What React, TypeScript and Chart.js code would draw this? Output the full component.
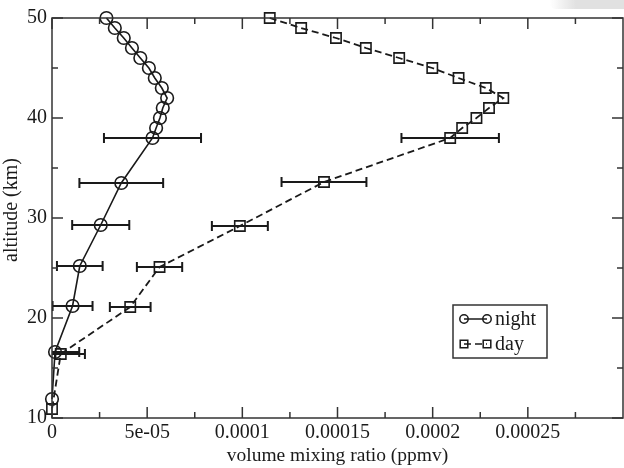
import React, { useEffect, useRef } from 'react';
import { Chart, registerables } from 'chart.js';

Chart.register(...registerables);

// ---------- data ----------
const nightAltitude = [50, 49, 48, 47, 46, 45, 44, 43, 42, 41, 40, 39, 38, 33.5, 29.3, 25.2, 21.2, 16.6, 11.9];
const nightValue = [2.86e-5, 3.3e-5, 3.77e-5, 4.2e-5, 4.64e-5, 5.09e-5, 5.4e-5, 5.77e-5, 6.05e-5, 5.82e-5, 5.67e-5, 5.47e-5, 5.28e-5, 3.64e-5, 2.56e-5, 1.46e-5, 1.08e-5, 0.16e-5, 0];
const nightError = [null, null, null, null, null, null, null, null, null, null, null, null, 2.55e-5, 2.2e-5, 1.5e-5, 1.2e-5, 1.05e-5, 1.27e-5, null];

const dayAltitude = [50, 49, 48, 47, 46, 45, 44, 43, 42, 41, 40, 39, 38, 33.6, 29.2, 25.1, 21.1, 16.4, 10.9];
const dayValue = [1.144e-4, 1.309e-4, 1.492e-4, 1.649e-4, 1.824e-4, 1.998e-4, 2.136e-4, 2.279e-4, 2.371e-4, 2.296e-4, 2.23e-4, 2.155e-4, 2.092e-4, 1.429e-4, 0.987e-4, 5.65e-5, 4.11e-5, 0.46e-5, 0];
const dayError = [null, null, null, null, null, null, null, null, null, null, null, null, 2.56e-5, 2.23e-5, 1.47e-5, 1.19e-5, 1.07e-5, 1.27e-5, null];

const seriesLabels = ['night', 'day'];

const xTickValues = [0, 5e-5, 1e-4, 1.5e-4, 2e-4, 2.5e-4];
const xTickLabels = ['0', '5e-05', '0.0001', '0.00015', '0.0002', '0.00025'];
const xMinorTicks = [2.5e-5, 7.5e-5, 1.25e-4, 1.75e-4, 2.25e-4, 2.75e-4];
const yTickValues = [10, 20, 30, 40, 50];
const yTickLabels = ['10', '20', '30', '40', '50'];
const yMinorTicks = [15, 25, 35, 45];

const xMin = 0;
const xMax = 3e-4;
const yMin = 10;
const yMax = 50;

const xTitle = 'volume mixing ratio (ppmv)';
const yTitle = 'altitude (km)';

// ---------- styles ----------
const FONT = "'Liberation Serif', 'Times New Roman', serif";
const INK = '#1a1a1a';
const AXIS = '#333333';

const errorSets = [nightError, dayError];

const errorBarPlugin = {
  id: 'errorBars',
  afterDatasetsDraw(chart: any) {
    const { ctx, chartArea, scales } = chart;
    const xs = scales.x;
    const ys = scales.y;
    ctx.save();
    ctx.beginPath();
    ctx.rect(chartArea.left, chartArea.top - 10, chartArea.right - chartArea.left, chartArea.bottom - chartArea.top + 20);
    ctx.clip();
    ctx.strokeStyle = INK;
    ctx.lineWidth = 2;
    ctx.setLineDash([]);
    chart.data.datasets.forEach((ds: any, di: number) => {
      const errs = errorSets[di];
      ds.data.forEach((p: any, i: number) => {
        const e = errs[i];
        if (e == null) return;
        const y = ys.getPixelForValue(p.y);
        const x1 = xs.getPixelForValue(p.x - e);
        const x2 = xs.getPixelForValue(p.x + e);
        ctx.beginPath();
        ctx.moveTo(x1, y);
        ctx.lineTo(x2, y);
        ctx.moveTo(x1, y - 5);
        ctx.lineTo(x1, y + 5);
        ctx.moveTo(x2, y - 5);
        ctx.lineTo(x2, y + 5);
        ctx.stroke();
      });
    });
    ctx.restore();
  },
};

const framePlugin = {
  id: 'frame',
  afterDraw(chart: any) {
    const { ctx, chartArea, scales } = chart;
    const { left, right, top, bottom } = chartArea;
    const xs = scales.x;
    const ys = scales.y;
    ctx.save();
    ctx.setLineDash([]);
    ctx.strokeStyle = AXIS;
    ctx.lineWidth = 1.5;
    ctx.strokeRect(left, top, right - left, bottom - top);
    const seg = (a: number, b: number, c: number, d: number) => {
      ctx.beginPath();
      ctx.moveTo(a, b);
      ctx.lineTo(c, d);
      ctx.stroke();
    };
    const MAJ = 11;
    const MIN = 6;
    xTickValues.forEach((v) => {
      const px = xs.getPixelForValue(v);
      seg(px, bottom, px, bottom - MAJ);
      seg(px, top, px, top + MAJ);
    });
    xMinorTicks.forEach((v) => {
      const px = xs.getPixelForValue(v);
      seg(px, bottom, px, bottom - MIN);
      seg(px, top, px, top + MIN);
    });
    yTickValues.forEach((v) => {
      const py = ys.getPixelForValue(v);
      seg(left, py, left + MAJ, py);
      seg(right, py, right - MAJ, py);
    });
    yMinorTicks.forEach((v) => {
      const py = ys.getPixelForValue(v);
      seg(left, py, left + MIN, py);
      seg(right, py, right - MIN, py);
    });

    // y axis title
    ctx.save();
    ctx.translate(12, (top + bottom) / 2 - 8);
    ctx.rotate(-Math.PI / 2);
    ctx.fillStyle = INK;
    ctx.font = `20px ${FONT}`;
    ctx.textAlign = 'center';
    ctx.textBaseline = 'middle';
    ctx.fillText(yTitle, 0, 0);
    ctx.restore();

    ctx.restore();
  },
};

const legendPlugin = {
  id: 'customLegend',
  afterDraw(chart: any) {
    const { ctx, chartArea } = chart;
    const bx = chartArea.left + 401;
    const by = chartArea.top + 287;
    const bw = 94;
    const bh = 53;
    ctx.save();
    ctx.fillStyle = '#ffffff';
    ctx.fillRect(bx, by, bw, bh);
    ctx.strokeStyle = AXIS;
    ctx.lineWidth = 1.5;
    ctx.setLineDash([]);
    ctx.strokeRect(bx, by, bw, bh);
    const rows = [by + 14, by + 39];
    chart.data.datasets.forEach((ds: any, i: number) => {
      const cy = rows[i];
      const xa = bx + 11;
      const xb = bx + 34;
      ctx.strokeStyle = INK;
      ctx.lineWidth = 1.5;
      ctx.setLineDash(ds.borderDash || []);
      ctx.beginPath();
      ctx.moveTo(xa, cy);
      ctx.lineTo(xb, cy);
      ctx.stroke();
      ctx.setLineDash([]);
      [xa, xb].forEach((mx) => {
        ctx.beginPath();
        if (ds.pointStyle === 'rect') {
          ctx.rect(mx - 3.8, cy - 3.8, 7.6, 7.6);
        } else {
          ctx.arc(mx, cy, 4.2, 0, Math.PI * 2);
        }
        ctx.stroke();
      });
      ctx.fillStyle = INK;
      ctx.font = `20px ${FONT}`;
      ctx.textAlign = 'left';
      ctx.textBaseline = 'middle';
      ctx.fillText(ds.label, bx + 42, cy + 1);
    });
    ctx.restore();
  },
};

export default function App() {
  const ref = useRef<HTMLCanvasElement>(null);

  useEffect(() => {
    if (!ref.current) return;
    const chart = new Chart(ref.current, {
      type: 'scatter',
      data: {
        datasets: [
          {
            label: seriesLabels[0],
            data: nightValue.map((v, i) => ({ x: v, y: nightAltitude[i] })),
            showLine: true,
            borderColor: INK,
            borderWidth: 1.6,
            pointStyle: 'circle',
            pointRadius: 6.3,
            pointBorderWidth: 1.6,
            pointBorderColor: INK,
            pointBackgroundColor: 'rgba(0,0,0,0)',
            clip: false,
          } as any,
          {
            label: seriesLabels[1],
            data: dayValue.map((v, i) => ({ x: v, y: dayAltitude[i] })),
            showLine: true,
            borderColor: INK,
            borderWidth: 1.8,
            borderDash: [7, 4],
            pointStyle: 'rect',
            pointRadius: 7.3,
            pointBorderWidth: 1.6,
            pointBorderColor: INK,
            pointBackgroundColor: 'rgba(0,0,0,0)',
            clip: false,
          } as any,
        ],
      },
      options: {
        animation: false,
        responsive: false,
        devicePixelRatio: 1,
        layout: { autoPadding: false, padding: { top: 18, right: 1, left: 0, bottom: 0 } },
        plugins: {
          legend: { display: false },
          tooltip: { enabled: false },
        },
        scales: {
          x: {
            type: 'linear',
            min: xMin,
            max: xMax,
            grid: { display: false, drawTicks: false },
            border: { display: false },
            afterBuildTicks: (scale: any) => {
              scale.ticks = xTickValues.map((v) => ({ value: v }));
            },
            afterFit: (scale: any) => {
              scale.height = 50;
              scale.paddingLeft = 0;
              scale.paddingRight = 0;
            },
            ticks: {
              autoSkip: false,
              maxRotation: 0,
              padding: 3,
              color: INK,
              font: { family: FONT, size: 20 },
              callback: (v: any) => {
                const idx = xTickValues.findIndex((t) => Math.abs(t - Number(v)) < 1e-12);
                return idx >= 0 ? xTickLabels[idx] : '';
              },
            },
            title: {
              display: true,
              text: xTitle,
              color: INK,
              font: { family: FONT, size: 19.5 },
              padding: { top: 0, bottom: 0 },
            },
          },
          y: {
            type: 'linear',
            min: yMin,
            max: yMax,
            grid: { display: false, drawTicks: false },
            border: { display: false },
            afterBuildTicks: (scale: any) => {
              scale.ticks = yTickValues.map((v) => ({ value: v }));
            },
            afterFit: (scale: any) => {
              scale.width = 52;
              scale.paddingTop = 0;
              scale.paddingBottom = 0;
            },
            ticks: {
              autoSkip: false,
              padding: 5,
              color: INK,
              font: { family: FONT, size: 20 },
              callback: (v: any) => {
                const idx = yTickValues.findIndex((t) => Math.abs(t - Number(v)) < 1e-9);
                return idx >= 0 ? yTickLabels[idx] : '';
              },
            },
            title: { display: false },
          },
        },
      },
      plugins: [errorBarPlugin, framePlugin, legendPlugin],
    });
    return () => chart.destroy();
  }, []);

  return (
    <div style={{ position: 'fixed', left: 0, top: 0, width: 624, height: 468, background: '#ffffff', overflow: 'hidden' }}>
      <canvas ref={ref} width={624} height={468} style={{ display: 'block', width: 624, height: 468 }} />
      <div
        style={{
          position: 'absolute',
          left: 550,
          top: 0,
          width: 74,
          height: 9,
          background: 'linear-gradient(to right, rgba(225,225,225,0), rgba(225,225,225,1) 35%)',
          borderBottomLeftRadius: 6,
        }}
      />
    </div>
  );
}
